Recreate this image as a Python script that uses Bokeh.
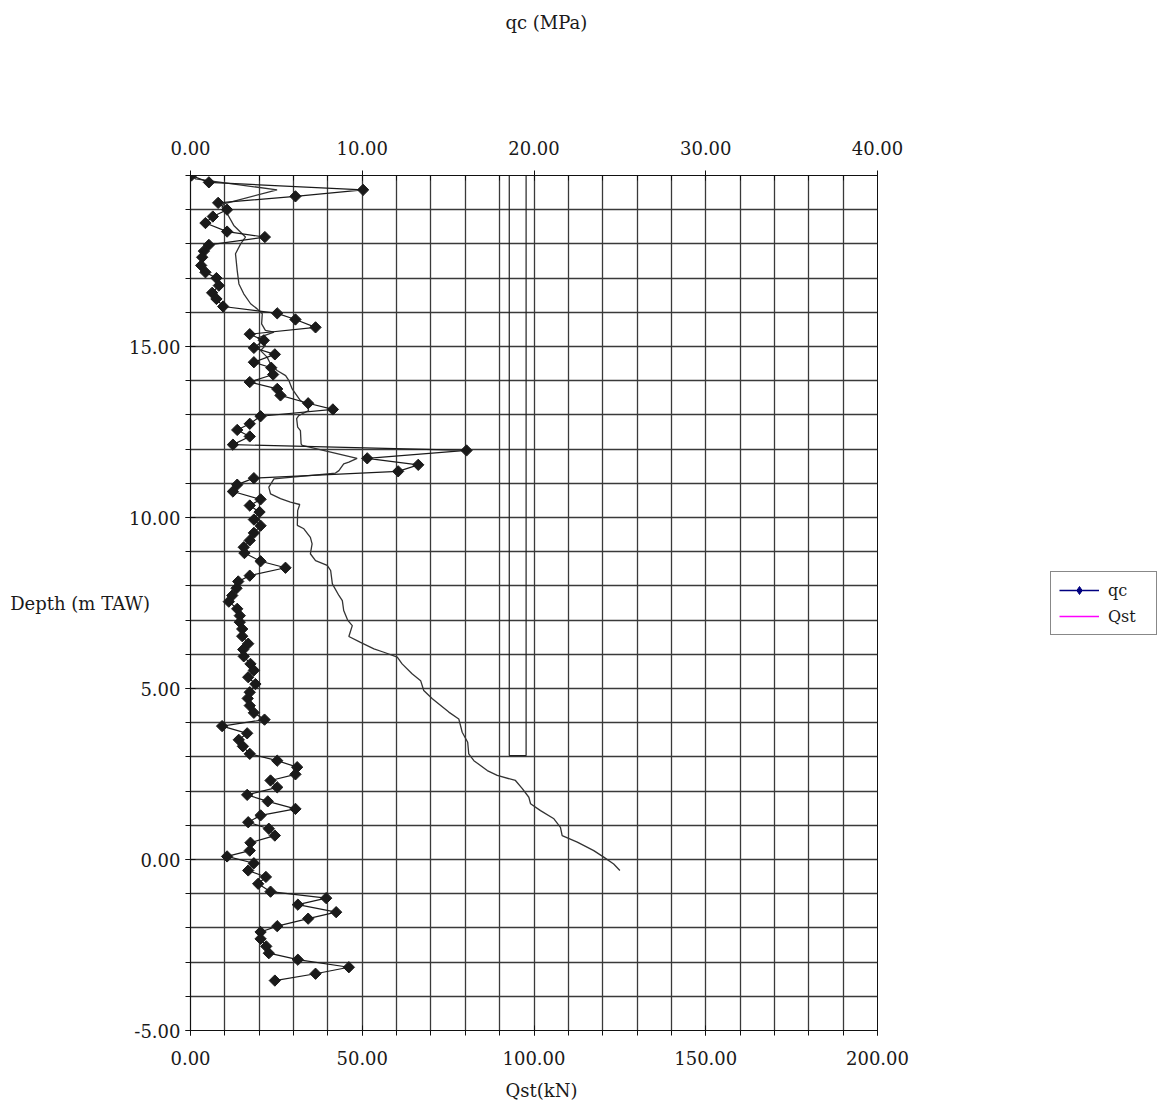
from bokeh.plotting import figure
from bokeh.layouts import row
from bokeh.models import (Range1d, LinearAxis, SingleIntervalTicker, FixedTicker,
                          NumeralTickFormatter, Title, Legend, LegendItem)
from bokeh.embed import file_html
from bokeh.resources import INLINE
import numpy as np

# ---- data ----
qc_depth = [20.00, 19.80, 19.58, 19.39, 19.20, 19.00, 18.80, 18.61, 18.36, 18.20,
            17.97, 17.79, 17.61, 17.37, 17.17, 17.00, 16.78, 16.57, 16.39, 16.17,
            15.97, 15.79, 15.56, 15.36, 15.18, 14.96, 14.77, 14.54, 14.38, 14.18,
            13.96, 13.76, 13.57, 13.34, 13.16, 12.96, 12.74, 12.56, 12.37, 12.13,
            11.96, 11.73, 11.54, 11.35, 11.15, 10.96, 10.76, 10.53, 10.35, 10.16,
            9.94, 9.76, 9.55, 9.33, 9.13, 8.96, 8.72, 8.53, 8.30, 8.13,
            7.93, 7.72, 7.54, 7.33, 7.13, 6.94, 6.74, 6.53, 6.31, 6.14,
            5.94, 5.72, 5.53, 5.33, 5.13, 4.89, 4.71, 4.50, 4.29, 4.09,
            3.90, 3.69, 3.50, 3.31, 3.09, 2.89, 2.70, 2.49, 2.31, 2.11,
            1.89, 1.70, 1.48, 1.29, 1.09, 0.90, 0.70, 0.49, 0.26, 0.09,
            -0.11, -0.32, -0.51, -0.71, -0.94, -1.13, -1.32, -1.54, -1.73, -1.95,
            -2.12, -2.32, -2.54, -2.74, -2.93, -3.15, -3.34, -3.54]
qc_mpa = [0.05, 1.07, 10.05, 6.11, 1.61, 2.13, 1.30, 0.87, 2.13, 4.33,
          1.07, 0.78, 0.68, 0.62, 0.87, 1.51, 1.65, 1.26, 1.51, 1.90,
          5.05, 6.11, 7.28, 3.45, 4.27, 3.69, 4.91, 3.69, 4.70, 4.81,
          3.45, 5.05, 5.24, 6.85, 8.29, 4.08, 3.45, 2.72, 3.45, 2.47,
          16.07, 10.29, 13.26, 12.09, 3.69, 2.72, 2.47, 4.08, 3.45, 4.02,
          3.69, 4.08, 3.69, 3.45, 3.10, 3.14, 4.08, 5.53, 3.45, 2.78,
          2.68, 2.43, 2.23, 2.72, 2.87, 2.87, 3.01, 3.01, 3.36, 3.07,
          3.10, 3.49, 3.69, 3.36, 3.78, 3.45, 3.33, 3.45, 3.69, 4.31,
          1.84, 3.30, 2.81, 3.05, 3.45, 5.05, 6.21, 6.11, 4.66, 5.05,
          3.30, 4.50, 6.11, 4.08, 3.36, 4.56, 4.91, 3.49, 3.45, 2.13,
          3.69, 3.36, 4.39, 3.94, 4.66, 7.90, 6.25, 8.48, 6.85, 5.05,
          4.08, 4.08, 4.41, 4.56, 6.25, 9.22, 7.28, 4.91]

qst_depth = [20.00, 19.90, 19.58, 19.17, 19.07, 18.88, 18.54, 18.34, 18.20, 18.00,
             17.71, 17.22, 16.83, 16.54, 16.25, 16.10, 15.96, 15.66, 15.47, 15.42,
             15.25, 15.03, 14.88, 14.69, 14.49, 14.30, 14.15, 14.01, 13.76, 13.42,
             13.27, 13.13, 12.98, 12.89, 12.64, 12.54, 12.15, 12.11, 11.73, 11.62,
             11.57, 11.37, 11.30, 11.13, 10.89, 10.69, 10.55, 10.45, 10.38, 10.20,
             9.77, 9.67, 9.42, 9.23, 8.94, 8.74, 8.60, 8.45, 8.06, 7.72,
             7.57, 7.28, 6.99, 6.84, 6.52, 6.35, 6.16, 6.06, 5.92, 5.72,
             5.43, 5.23, 4.94, 4.70, 4.31, 4.11, 3.72, 3.43, 3.09, 2.89,
             2.60, 2.46, 2.31, 2.07, 1.82, 1.63, 1.43, 1.19, 0.94, 0.70,
             0.51, 0.26, 0.07, -0.13, -0.32]
qst_kn = [0.5, 1.5, 25.2, 9.7, 9.2, 10.7, 12.6, 14.6, 16.0, 14.6,
          13.1, 13.6, 14.1, 15.5, 17.5, 19.4, 20.9, 20.7, 21.8, 24.3,
          19.6, 21.8, 20.4, 22.3, 23.3, 25.2, 27.7, 28.6, 29.6, 32.0,
          34.0, 34.4, 31.5, 30.9, 31.2, 32.0, 32.2, 32.5, 48.5, 46.1,
          44.6, 43.2, 42.2, 24.3, 22.8, 23.3, 26.2, 29.1, 31.8, 31.2,
          31.1, 33.0, 34.9, 35.4, 34.9, 36.4, 39.8, 40.8, 41.3, 43.2,
          44.2, 44.6, 45.8, 47.1, 46.1, 49.5, 53.4, 56.3, 60.2, 61.6,
          64.5, 67.0, 67.9, 70.4, 75.2, 78.1, 79.1, 80.7, 81.0, 82.5,
          86.4, 89.3, 94.6, 96.6, 98.5, 99.0, 101.9, 105.8, 107.7, 108.2,
          112.6, 117.4, 120.3, 123.2, 125.0]

pile_left_kn = [92.8]
pile_right_kn = [97.7]
pile_top_m = [20.0]
pile_bottom_m = [3.04]

depth_ticks = [-5, 0, 5, 10, 15]

FONT = "DejaVu Serif"
FS = "18px"
TXT = "#1a1a1a"

p = figure(width=1040, height=1115, output_backend="svg", toolbar_location=None,
           x_range=Range1d(0, 200), y_range=Range1d(-5, 20),
           min_border_left=190, min_border_right=163, min_border_top=175, min_border_bottom=85,
           x_axis_location="below")
p.extra_x_ranges = {"qc": Range1d(0, 40)}
p.background_fill_color = "white"
p.border_fill_color = "white"
p.outline_line_color = "#111111"
p.outline_line_width = 1

# grid
p.xgrid[0].ticker = SingleIntervalTicker(interval=10)
p.ygrid[0].ticker = SingleIntervalTicker(interval=1)
for g in (p.xgrid[0], p.ygrid[0]):
    g.grid_line_color = "#3a3a3a"
    g.grid_line_width = 1.3
    g.grid_line_alpha = 1.0

def style_axis(ax):
    ax.axis_line_color = "#111111"
    ax.axis_line_width = 1.2
    ax.major_tick_line_color = "#111111"
    ax.minor_tick_line_color = "#111111"
    ax.major_label_text_font = FONT
    ax.major_label_text_font_size = FS
    ax.major_label_text_color = TXT
    ax.major_tick_in = 5
    ax.major_tick_out = 5
    ax.minor_tick_in = 0
    ax.minor_tick_out = 5
    ax.formatter = NumeralTickFormatter(format="0.00")

# bottom axis Qst
xb = p.xaxis[0]
xb.ticker = SingleIntervalTicker(interval=50, num_minor_ticks=5)
style_axis(xb)
xb.major_label_standoff = 15

# left axis depth (its label sits horizontally, left of the frame)
yl = p.yaxis[0]
yl.ticker = FixedTicker(ticks=depth_ticks, minor_ticks=list(range(-5, 21)))
style_axis(yl)
yl.major_label_standoff = 5
yl.axis_label = "Depth (m TAW)"
yl.axis_label_orientation = "horizontal"
yl.axis_label_standoff = -24
yl.axis_label_text_font = FONT
yl.axis_label_text_font_size = FS
yl.axis_label_text_font_style = "normal"
yl.axis_label_text_color = TXT

# top axis qc
xt = LinearAxis(x_range_name="qc")
xt.ticker = SingleIntervalTicker(interval=10, num_minor_ticks=5)
style_axis(xt)
xt.minor_tick_in = 5
xt.minor_tick_out = 0
xt.major_label_standoff = 16
p.add_layout(xt, "above")

# titles (top one pushed up by a blank spacer title)
p.add_layout(Title(text=" ", standoff=82, text_font=FONT, text_font_size=FS,
                   text_font_style="normal", text_color="white"), "above")
p.add_layout(Title(text="qc (MPa)", align="left", offset=315, standoff=0,
                   vertical_align="bottom",
                   text_font=FONT, text_font_size=FS, text_font_style="normal",
                   text_color=TXT), "above")
p.add_layout(Title(text="Qst(kN)", align="left", offset=315, standoff=20,
                   vertical_align="bottom",
                   text_font=FONT, text_font_size=FS, text_font_style="normal",
                   text_color=TXT), "below")

# pile rectangle
p.quad(left=pile_left_kn, right=pile_right_kn, top=pile_top_m, bottom=pile_bottom_m,
       fill_alpha=0, line_color="#222222", line_width=1.2)

# Qst line
p.line(qst_kn, qst_depth, line_color="#333333", line_width=1.3)

# qc line with diamonds
p.line(qc_mpa, qc_depth, x_range_name="qc", line_color="#1a1a1a", line_width=1.2)
p.scatter(qc_mpa, qc_depth, x_range_name="qc", marker="square", angle=np.pi / 4,
          size=8, fill_color="#1a1a1a", line_color="#1a1a1a")

# ---- legend panel: a small figure to the right ----
lf = figure(width=124, height=1115, output_backend="svg", toolbar_location=None,
            x_range=Range1d(0, 1), y_range=Range1d(0, 1),
            x_axis_location=None, y_axis_location=None, min_border=0)
lf.grid.visible = False
lf.outline_line_color = None
lf.background_fill_color = "white"
lf.border_fill_color = "white"
# renderers sit outside the visible range: only their legend glyphs show
lg_qc_line = lf.line([-3, -2], [-3, -3], line_color="#000080", line_width=1.5)
lg_qc_pt = lf.scatter([-2.5], [-3], marker="diamond", size=11,
                      fill_color="#000080", line_color="#000080")
lg_qst = lf.line([-3, -2], [-3, -3], line_color="#ff00ff", line_width=1.5)
legend = Legend(items=[LegendItem(label="qc", renderers=[lg_qc_line, lg_qc_pt]),
                       LegendItem(label="Qst", renderers=[lg_qst])],
                location=(10, 395), orientation="vertical",
                label_text_font=FONT, label_text_font_size="16px", label_text_color=TXT,
                glyph_width=40, glyph_height=20, label_height=20, label_width=40,
                spacing=6, padding=8, margin=0, label_standoff=9,
                border_line_color="#111111", border_line_width=1,
                background_fill_color="white", background_fill_alpha=1)
lf.add_layout(legend, "center")

layout = row(p, lf)
open("out.html", "w").write(file_html(layout, INLINE))
